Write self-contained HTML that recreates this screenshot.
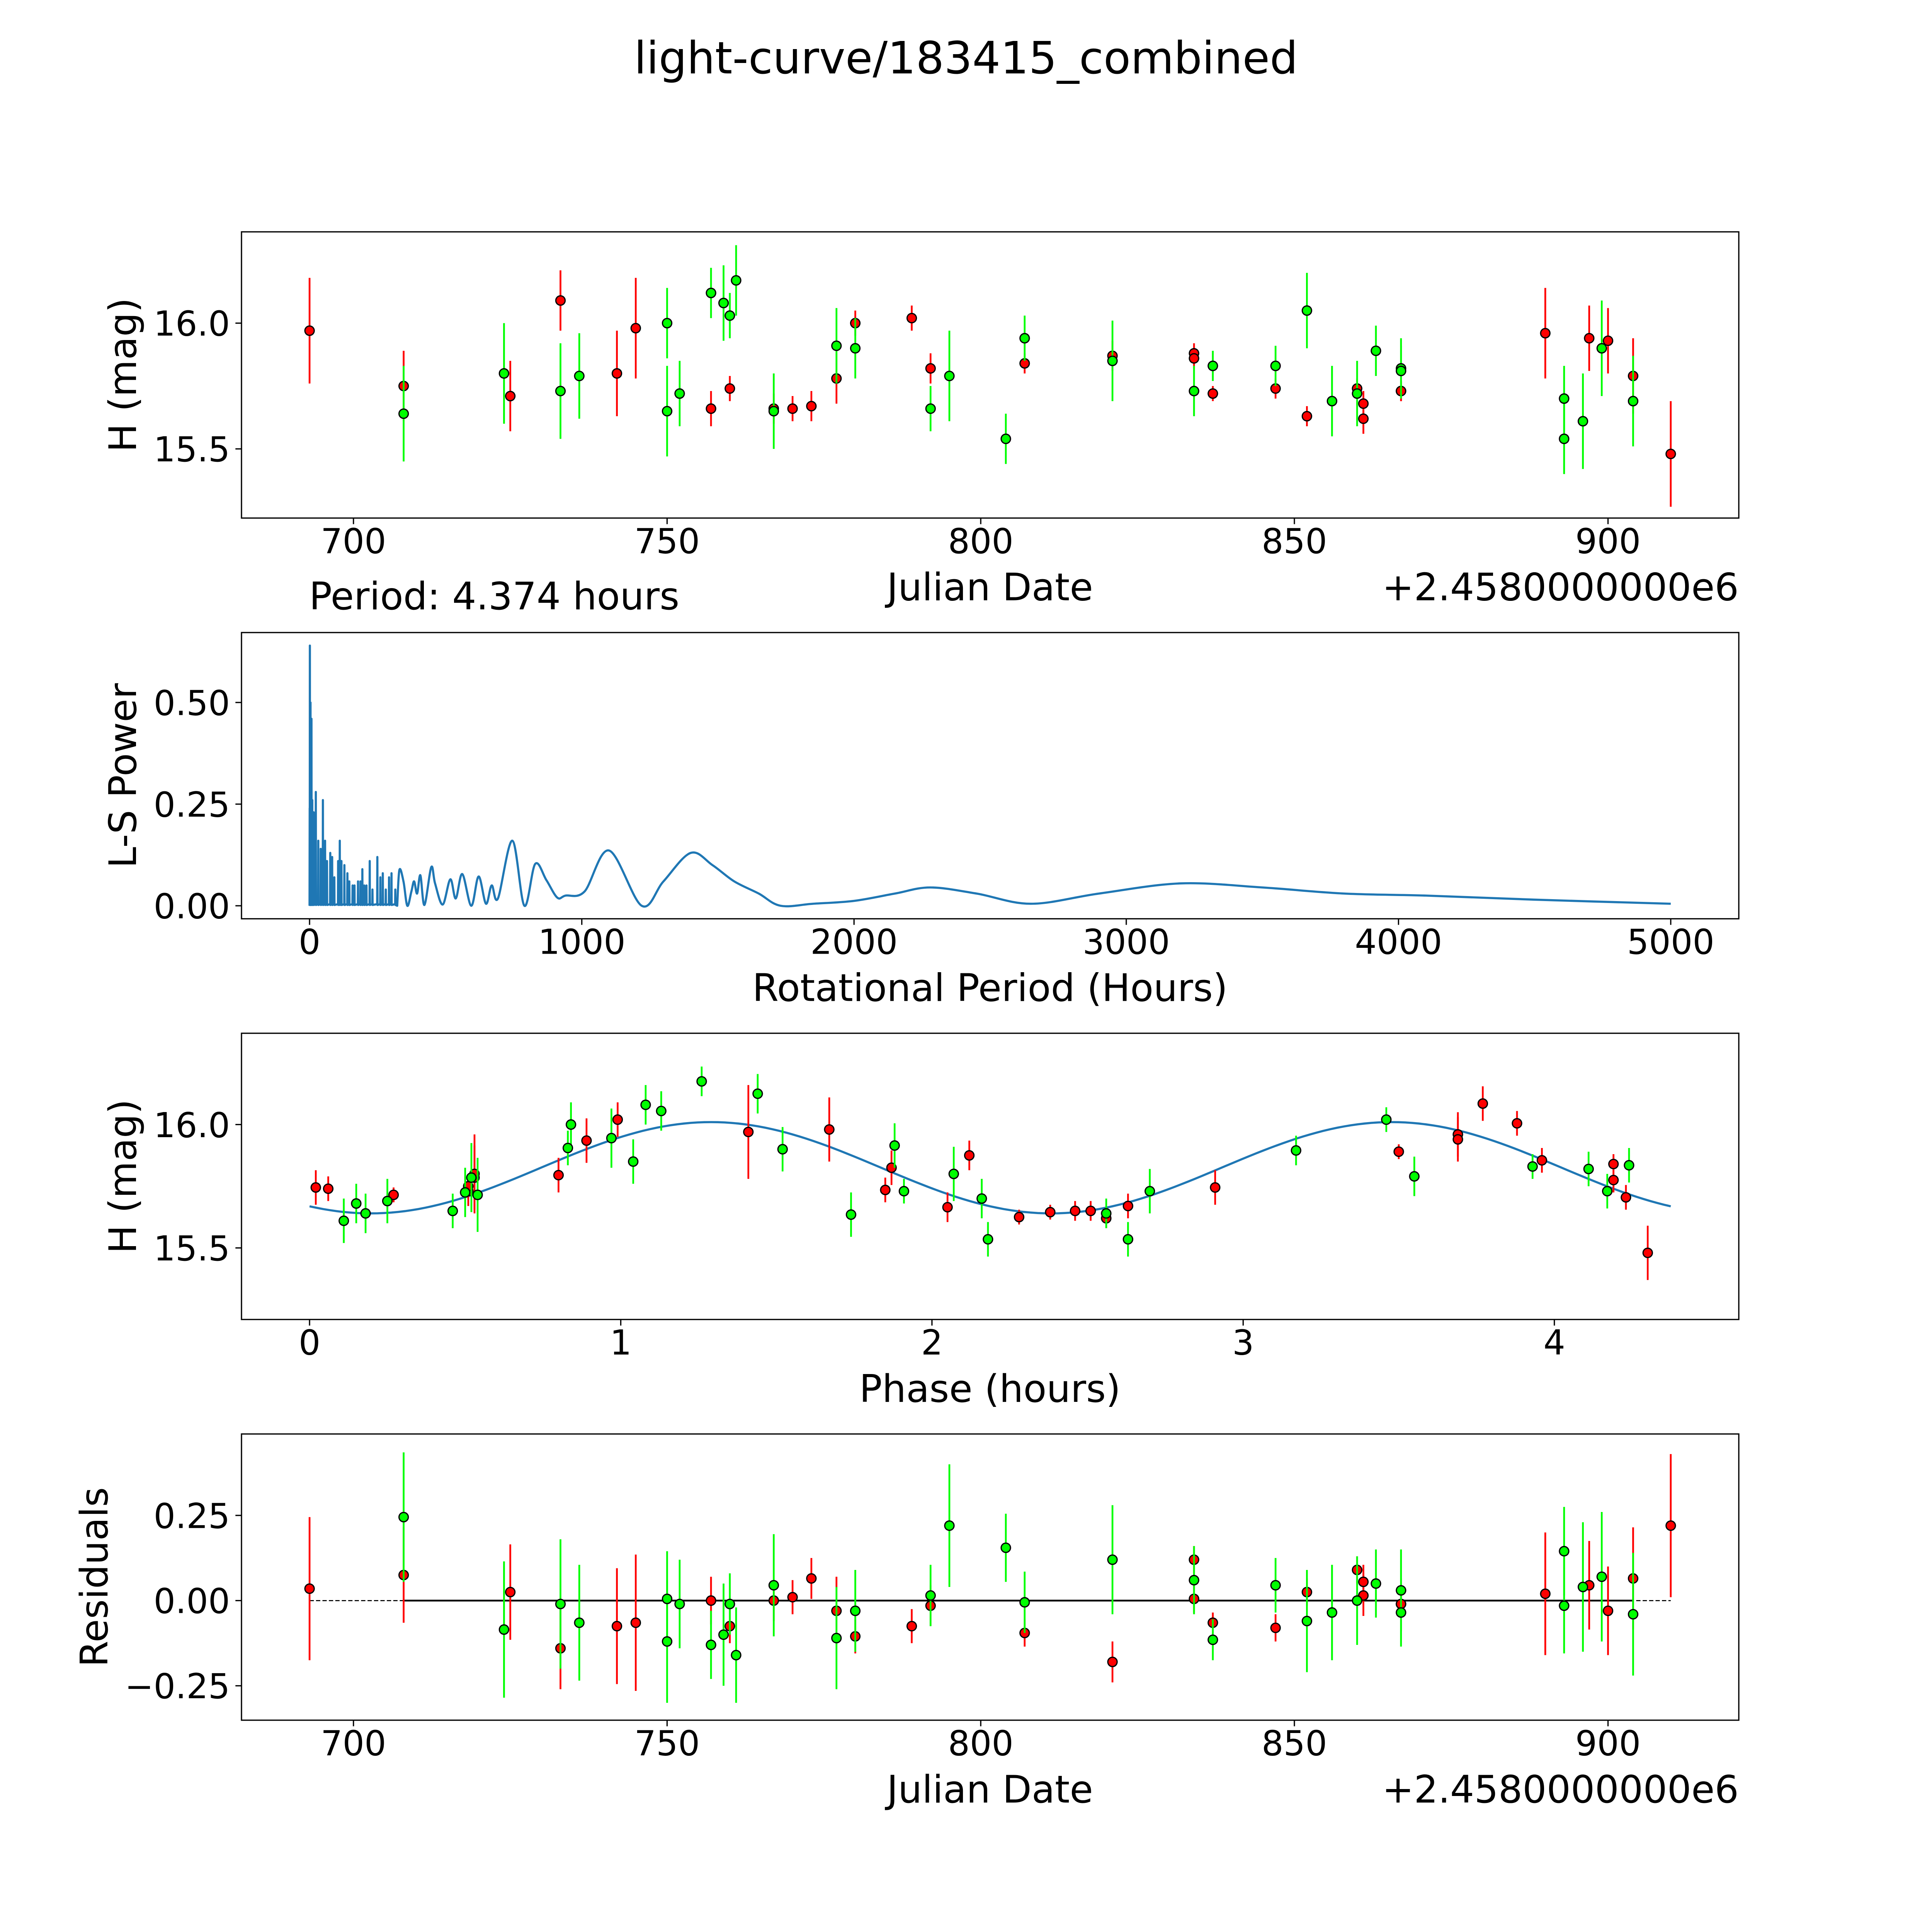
<!DOCTYPE html>
<html><head><meta charset="utf-8"><style>
html,body{margin:0;padding:0;background:#fff;overflow:hidden;}
svg{display:block;width:100vw;height:100vh;font-family:"DejaVu Sans","Liberation Sans",sans-serif;}
</style></head><body>
<svg id="fig" xmlns="http://www.w3.org/2000/svg" viewBox="0 0 5400 5400" preserveAspectRatio="none">
<rect x="0" y="0" width="5400" height="5400" fill="#fff"/>
<text x="2700" y="205" font-size="124" text-anchor="middle">light-curve/183415_combined</text>
</svg>
<script>
// ---------- data ----------
const redJD   = [693,708,725,733,742,745,757,760,767,770,773,777,780,789,792,807,821,834,834,837,847,852,860,861,861,867,867,890,897,900,904,910];
const redMag  = [15.97,15.75,15.71,16.09,15.80,15.98,15.66,15.74,15.66,15.66,15.67,15.78,16.00,16.02,15.82,15.84,15.87,15.88,15.86,15.72,15.74,15.63,15.74,15.68,15.62,15.73,15.73,15.96,15.94,15.93,15.79,15.48];
const redErr  = [0.21,0.14,0.14,0.12,0.17,0.2,0.07,0.05,0.06,0.05,0.06,0.1,0.05,0.05,0.06,0.04,0.06,0.04,0.04,0.03,0.04,0.04,0.04,0.05,0.06,0.04,0.04,0.18,0.13,0.13,0.15,0.21];
const greenJD  = [708,724,733,736,750,750,752,757,759,760,761,767,777,780,792,795,804,807,821,834,837,847,852,856,860,863,867,867,893,893,896,899,904];
const greenMag = [15.64,15.80,15.73,15.79,16.00,15.65,15.72,16.12,16.08,16.03,16.17,15.65,15.91,15.90,15.66,15.79,15.54,15.94,15.85,15.73,15.83,15.83,16.05,15.69,15.72,15.89,15.82,15.81,15.70,15.54,15.61,15.90,15.69];
const greenErr = [0.19,0.2,0.19,0.17,0.14,0.18,0.13,0.1,0.15,0.09,0.14,0.15,0.15,0.12,0.09,0.18,0.1,0.09,0.16,0.1,0.06,0.08,0.15,0.14,0.13,0.1,0.12,0.1,0.13,0.14,0.19,0.19,0.18];
const redRes   = [0.035,0.075,0.025,-0.14,-0.075,-0.065,0,-0.075,0,0.01,0.065,-0.03,-0.105,-0.075,-0.015,-0.095,-0.18,0.12,0.005,-0.065,-0.08,0.025,0.09,0.055,0.015,-0.01,-0.01,0.02,0.045,-0.03,0.065,0.22];
const greenRes = [0.245,-0.085,-0.01,-0.065,0.005,-0.12,-0.01,-0.13,-0.1,-0.01,-0.16,0.045,-0.11,-0.03,0.015,0.22,0.155,-0.005,0.12,0.06,-0.115,0.045,-0.06,-0.035,0.0,0.05,0.03,-0.035,0.145,-0.015,0.04,0.07,-0.04];
const redPhase  = [0.02,0.06,0.27,0.51,0.51,0.53,0.53,0.80,0.89,0.99,1.41,1.67,1.85,1.87,2.05,2.12,2.28,2.38,2.46,2.51,2.56,2.63,2.91,3.50,3.69,3.69,3.77,3.88,3.96,4.19,4.19,4.23,4.30];
const redPMag   = [15.745,15.74,15.715,15.73,15.75,15.785,15.80,15.795,15.935,16.02,15.97,15.98,15.735,15.825,15.665,15.875,15.625,15.645,15.65,15.65,15.62,15.67,15.745,15.89,15.96,15.94,16.085,16.005,15.855,15.84,15.775,15.705,15.48];
const redPErr   = [0.07,0.05,0.03,0.06,0.05,0.13,0.16,0.07,0.09,0.07,0.19,0.13,0.05,0.07,0.06,0.06,0.03,0.03,0.04,0.04,0.04,0.05,0.07,0.03,0.09,0.09,0.07,0.05,0.05,0.04,0.05,0.05,0.11];
const greenPhase = [0.11,0.15,0.18,0.25,0.46,0.50,0.52,0.54,0.83,0.84,0.97,1.04,1.08,1.13,1.26,1.44,1.52,1.74,1.88,1.91,2.07,2.16,2.18,2.56,2.63,2.70,3.17,3.46,3.55,3.93,4.11,4.17,4.24];
const greenPMag  = [15.61,15.68,15.64,15.69,15.65,15.725,15.785,15.715,15.905,16.0,15.945,15.85,16.08,16.055,16.175,16.125,15.90,15.635,15.915,15.73,15.80,15.70,15.535,15.64,15.535,15.73,15.895,16.02,15.79,15.83,15.82,15.73,15.835];
const greenPErr  = [0.09,0.08,0.08,0.09,0.07,0.1,0.14,0.15,0.07,0.09,0.12,0.09,0.08,0.08,0.06,0.08,0.09,0.09,0.09,0.05,0.11,0.08,0.07,0.06,0.07,0.09,0.06,0.05,0.08,0.05,0.07,0.07,0.07];
// sinusoid fit parameters
const fitMean = 15.825, fitAmp = 0.185, fitPeak = 1.29, fitHalfPeriod = 2.187, periodHours = 4.374;
// periodogram: spikes in dense region + smooth part
const spikePeriod = [0.5,1.2,3.5,7,10,15,23,32,41,49,57,64,76,83,91,105,111,117,128,139,146,158,165,178,187,194,201,209,221,231,249,260,269,280,292,301,315];
const spikePower  = [0.24,0.64,0.5,0.46,0.26,0.23,0.28,0.16,0.14,0.26,0.16,0.11,0.13,0.12,0.07,0.11,0.16,0.11,0.10,0.08,0.06,0.05,0.05,0.06,0.06,0.09,0.05,0.05,0.11,0.04,0.12,0.07,0.08,0.04,0.07,0.08,0.04];
const smoothPeriod = [322,330,345,359,374,384,395,407,422,447,461,489,517,537,561,594,621,648,669,692,745,789,829,870,910,940,1010,1100,1220,1300,1400,1480,1560,1650,1730,1850,2000,2150,2280,2450,2650,2900,3200,3500,3800,4100,4500,5000];
const smoothPower  = [0.0,0.088,0.06,0.0,0.035,0.06,0.03,0.075,0.002,0.095,0.055,0.003,0.065,0.018,0.078,0.0,0.072,0.005,0.05,0.018,0.16,0.0,0.103,0.063,0.02,0.025,0.035,0.136,0.0,0.06,0.13,0.1,0.06,0.03,0.0,0.005,0.012,0.03,0.045,0.03,0.005,0.03,0.055,0.045,0.03,0.025,0.015,0.005];
const jdTicks = [700,750,800,850,900];
const magTicks = [15.5,16.0];
const perTicks = [0,1000,2000,3000,4000,5000];
const powTicks = [0.0,0.25,0.5];
const phaseTicks = [0,1,2,3,4];
const resTicks = [-0.25,0.0,0.25];

// ---------- helpers ----------
const NS = "http://www.w3.org/2000/svg";
const svg = document.getElementById('fig');
const L = 675, R = 4860, H = 800;
const TF = 96, LF = 106;
function mk(tag, attrs, parent) {
  const e = document.createElementNS(NS, tag);
  for (const k in attrs) e.setAttribute(k, attrs[k]);
  (parent || svg).appendChild(e);
  return e;
}
function axis(top, x0, x1, y0, y1) {
  return {
    top: top,
    sx: v => L + (v - x0) / (x1 - x0) * (R - L),
    sy: v => top + H - (v - y0) / (y1 - y0) * H
  };
}
function frame(ax, name) {
  const r = mk('rect', {x: L, y: ax.top, width: R - L, height: H, fill: 'none', stroke: '#000', 'stroke-width': 3.5});
  
  
}
function xticks(ax, ticks, fmt, name) {
  const g = mk('g', {});
  
  
  ticks.forEach(t => {
    const x = ax.sx(t), y = ax.top + H;
    mk('line', {x1: x, x2: x, y1: y, y2: y + 17, stroke: '#000', 'stroke-width': 3.5}, g);
    const tx = mk('text', {x: x, y: y + 98, 'font-size': TF, 'text-anchor': 'middle'}, g);
    tx.textContent = fmt(t);
  });
}
function yticks(ax, ticks, fmt, name) {
  const g = mk('g', {});
  
  
  ticks.forEach(t => {
    const y = ax.sy(t);
    mk('line', {x1: L, x2: L - 17, y1: y, y2: y, stroke: '#000', 'stroke-width': 3.5}, g);
    const tx = mk('text', {x: L - 32, y: y + 35, 'font-size': TF, 'text-anchor': 'end'}, g);
    tx.textContent = fmt(t);
  });
}
function label(text, x, y, rot, name, anchor) {
  const t = mk('text', {x: x, y: y, 'font-size': LF, 'text-anchor': anchor || 'middle'});
  if (rot) t.setAttribute('transform', 'rotate(-90 ' + x + ' ' + y + ')');
  t.textContent = text;
  
  
  return t;
}
function errpoints(ax, xs, ys, es, color, name) {
  const g = mk('g', {});
  
  
  xs.forEach((xv, i) => {
    const x = ax.sx(xv);
    mk('line', {x1: x, x2: x, y1: ax.sy(ys[i] - es[i]), y2: ax.sy(ys[i] + es[i]), stroke: color, 'stroke-width': 5}, g);
  });
  xs.forEach((xv, i) => {
    const c = mk('circle', {cx: ax.sx(xv), cy: ax.sy(ys[i]), r: 13, fill: color, stroke: '#000', 'stroke-width': 3.5}, g);
    
    
  });
}
const f2 = t => t.toFixed(2), f1 = t => t.toFixed(1), f0 = t => String(t);
const fr = t => (t < 0 ? '\u2212' + Math.abs(t).toFixed(2) : t.toFixed(2));

// ---------- panel 1: light curve ----------
const a1 = axis(648, 682.15, 920.85, 15.225, 16.363);
frame(a1, 'lightcurve');
xticks(a1, jdTicks, f0, 'lightcurve');
yticks(a1, magTicks, f1, 'lightcurve');
errpoints(a1, redJD, redMag, redErr, '#ff0000', 'lightcurve-red-series');
errpoints(a1, greenJD, greenMag, greenErr, '#00ff00', 'lightcurve-green-series');
label('Julian Date', 2767, 1678, false, 'lightcurve-x-axis-title');
label('+2.4580000000e6', 4860, 1678, false, 'lightcurve-x-offset', 'end');
label('H (mag)', 380, 1048, true, 'lightcurve-y-axis-title');
label('Period: 4.374 hours', 864, 1703, false, 'period-annotation', 'start');

// ---------- panel 2: periodogram ----------
const a2 = axis(1768, -250, 5250, -0.032, 0.672);
frame(a2, 'periodogram');
xticks(a2, perTicks, f0, 'periodogram');
yticks(a2, powTicks, f2, 'periodogram');
let d = 'M' + a2.sx(0).toFixed(1) + ' ' + a2.sy(0).toFixed(1);
spikePeriod.forEach((p, i) => {
  d += ' L' + a2.sx(p - 0.6).toFixed(1) + ' ' + a2.sy(0.004).toFixed(1);
  d += ' L' + a2.sx(p).toFixed(1) + ' ' + a2.sy(spikePower[i]).toFixed(1);
  d += ' L' + a2.sx(p + 0.6).toFixed(1) + ' ' + a2.sy(0.002).toFixed(1);
});
// smooth (Catmull-Rom) through smooth part
const sp = smoothPeriod.map((p, i) => [a2.sx(p), a2.sy(smoothPower[i])]);
d += ' L' + sp[0][0].toFixed(1) + ' ' + sp[0][1].toFixed(1);
for (let i = 0; i < sp.length - 1; i++) {
  const p0 = sp[Math.max(0, i - 1)], p1 = sp[i], p2 = sp[i + 1], p3 = sp[Math.min(sp.length - 1, i + 2)];
  const c1 = [p1[0] + (p2[0] - p0[0]) / 6, p1[1] + (p2[1] - p0[1]) / 6];
  const c2 = [p2[0] - (p3[0] - p1[0]) / 6, p2[1] - (p3[1] - p1[1]) / 6];
  d += ' C' + c1[0].toFixed(1) + ' ' + c1[1].toFixed(1) + ' ' + c2[0].toFixed(1) + ' ' + c2[1].toFixed(1) + ' ' + p2[0].toFixed(1) + ' ' + p2[1].toFixed(1);
}
const pg = mk('path', {d: d, fill: 'none', stroke: '#1f77b4', 'stroke-width': 6, 'stroke-linejoin': 'round'});


label('Rotational Period (Hours)', 2767, 2798, false, 'periodogram-x-axis-title');
label('L-S Power', 380, 2168, true, 'periodogram-y-axis-title');

// ---------- panel 3: phased ----------
const a3 = axis(2888, -0.2187, 4.5927, 15.21, 16.37);
frame(a3, 'phase');
xticks(a3, phaseTicks, f0, 'phase');
yticks(a3, magTicks, f1, 'phase');
let cd = [];
for (let i = 0; i <= 200; i++) {
  const p = periodHours * i / 200;
  const m = fitMean + fitAmp * Math.cos(2 * Math.PI * (p - fitPeak) / fitHalfPeriod);
  cd.push((i ? 'L' : 'M') + a3.sx(p).toFixed(1) + ' ' + a3.sy(m).toFixed(1));
}
const fc = mk('path', {d: cd.join(' '), fill: 'none', stroke: '#1f77b4', 'stroke-width': 6});


errpoints(a3, redPhase, redPMag, redPErr, '#ff0000', 'phase-red-series');
errpoints(a3, greenPhase, greenPMag, greenPErr, '#00ff00', 'phase-green-series');
label('Phase (hours)', 2767, 3918, false, 'phase-x-axis-title');
label('H (mag)', 380, 3288, true, 'phase-y-axis-title');

// ---------- panel 4: residuals ----------
const a4 = axis(4008, 682.15, 920.85, -0.351, 0.489);
frame(a4, 'residuals');
xticks(a4, jdTicks, f0, 'residuals');
yticks(a4, resTicks, fr, 'residuals');
const zd = mk('line', {x1: a4.sx(693), x2: a4.sx(910), y1: a4.sy(0), y2: a4.sy(0), stroke: '#000', 'stroke-width': 3, 'stroke-dasharray': '12 6'});


const zs = mk('line', {x1: a4.sx(708), x2: a4.sx(904), y1: a4.sy(0), y2: a4.sy(0), stroke: '#000', 'stroke-width': 5});


errpoints(a4, redJD, redRes, redErr, '#ff0000', 'residuals-red-series');
errpoints(a4, greenJD, greenRes, greenErr, '#00ff00', 'residuals-green-series');
label('Julian Date', 2767, 5038, false, 'residuals-x-axis-title');
label('+2.4580000000e6', 4860, 5038, false, 'residuals-x-offset', 'end');
label('Residuals', 300, 4408, true, 'residuals-y-axis-title');
</script>
</body></html>
